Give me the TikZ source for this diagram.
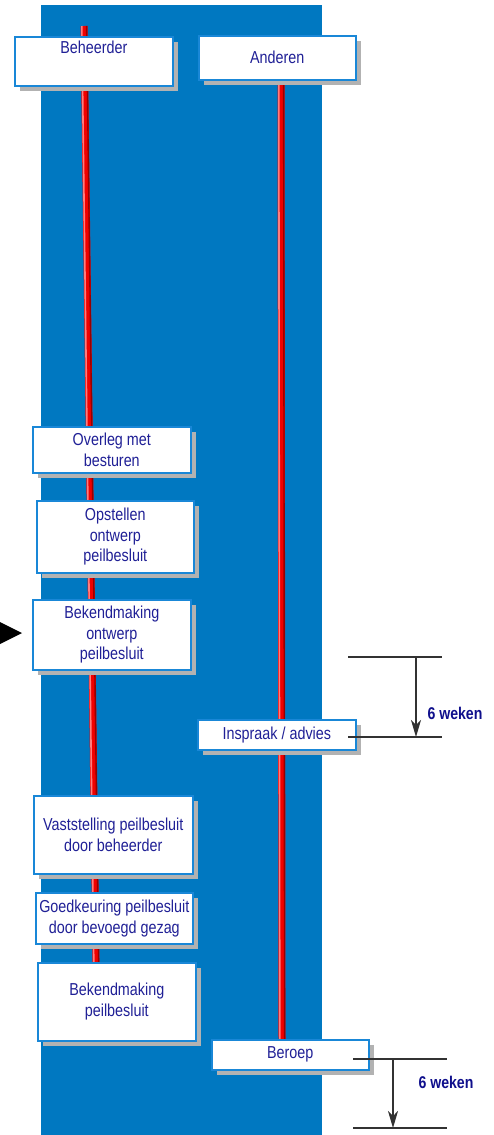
\documentclass[tikz,border=0pt]{standalone}
\usepackage{fontspec}
\setmainfont{Liberation Sans}[FakeStretch=0.83]
\usetikzlibrary{shadows,arrows.meta}
\definecolor{bg}{RGB}{0,120,193}
\definecolor{boxblue}{RGB}{25,135,215}
\definecolor{txtblue}{RGB}{32,32,150}
\definecolor{wkblue}{RGB}{15,15,140}
\definecolor{shadowgray}{RGB}{178,178,178}
\definecolor{polered}{RGB}{240,0,0}
\definecolor{polelight}{RGB}{255,125,125}
\definecolor{poledark}{RGB}{150,0,0}
\definecolor{dimgray}{RGB}{50,50,50}
\begin{document}
\begin{tikzpicture}[x=1pt,y=-1pt,
  stepbox/.style={draw=boxblue, line width=1.6pt, fill=white, text=txtblue,
    align=center, inner sep=0pt, anchor=north west,
    font=\fontsize{17.3}{20.7}\selectfont,
    general shadow={fill=shadowgray, shadow xshift=5pt, shadow yshift=-5pt}},
  polebase/.style={draw=polered, line width=7pt},
  polehi/.style={draw=polelight, line width=1.6pt, transform canvas={xshift=-2.2pt}},
  polelo/.style={draw=poledark, line width=1.4pt, transform canvas={xshift=2.6pt}},
  dimline/.style={draw=dimgray, line width=1.3pt},
  dimarrow/.style={draw=dimgray, line width=1.3pt, -{Stealth[length=17pt,width=10pt,inset=5pt]}},
  weeks/.style={text=wkblue, font=\fontsize{17}{19}\selectfont\bfseries, inner sep=0pt}]
\useasboundingbox (0,0) rectangle (494,1135);
\fill[bg] (41,5) rectangle (322,1135);
% poles
\coordinate (ltop) at (84,26);
\coordinate (lbot) at (96,962);
\coordinate (rtop) at (281,70);
\coordinate (rbot) at (282,1040);
\draw[polebase] (ltop) -- (lbot);
\draw[polehi] (ltop) -- (lbot);
\draw[polelo] (ltop) -- (lbot);
\draw[polebase] (rtop) -- (rbot);
\draw[polehi] (rtop) -- (rbot);
\draw[polelo] (rtop) -- (rbot);
% boxes
\node[stepbox, minimum width=158pt, text height=17pt, text depth=32pt] (beh) at (14,36) {Beheerder};
\node[stepbox, minimum width=157pt, minimum height=44pt] (and) at (198,35) {Anderen};
\node[stepbox, minimum width=158pt, minimum height=46pt] (overleg) at (32,426) {Overleg met\\besturen};
\node[stepbox, minimum width=157pt, minimum height=72pt] (opst) at (36,500) {Opstellen\\ontwerp\\peilbesluit};
\node[stepbox, minimum width=158pt, minimum height=70pt] (bekontw) at (32,599) {Bekendmaking\\ontwerp\\peilbesluit};
\node[stepbox, minimum width=158pt, minimum height=30pt] (insp) at (197,719) {Inspraak / advies};
\node[stepbox, minimum width=159pt, minimum height=78pt] (vast) at (33,795) {Vaststelling peilbesluit\\door beheerder};
\node[stepbox, minimum width=157pt, minimum height=51pt] (goed) at (35,892) {Goedkeuring peilbesluit\\door bevoegd gezag};
\node[stepbox, minimum width=158pt, minimum height=78pt] (bekpb) at (37,962) {Bekendmaking\\peilbesluit};
\node[stepbox, minimum width=157pt, minimum height=30pt] (beroep) at (211,1039) {Beroep};
% pointer triangle
\fill[black] (0,622) -- (22,633) -- (0,644) -- cycle;
% dimension 1
\coordinate (a1l) at (348,657); \coordinate (a1r) at (442,657);
\coordinate (b1l) at (348,737); \coordinate (b1r) at (442,737);
\coordinate (a1) at (416,657); \coordinate (b1) at (416,737);
\draw[dimline] (a1l) -- (a1r);
\draw[dimline] (b1l) -- (b1r);
\draw[dimarrow] (a1) -- (b1);
\node[weeks] (w1) at (455,713) {6 weken};
% dimension 2
\coordinate (a2l) at (353,1059); \coordinate (a2r) at (447,1059);
\coordinate (b2l) at (353,1128); \coordinate (b2r) at (447,1128);
\coordinate (a2) at (393,1059); \coordinate (b2) at (393,1128);
\draw[dimline] (a2l) -- (a2r);
\draw[dimline] (b2l) -- (b2r);
\draw[dimarrow] (a2) -- (b2);
\node[weeks] (w2) at (446,1082) {6 weken};
\end{tikzpicture}
\end{document}
